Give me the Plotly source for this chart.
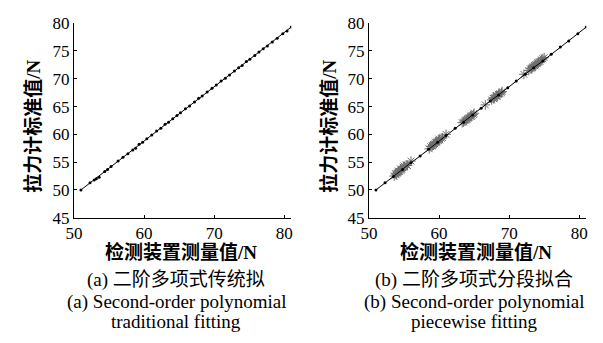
import plotly.graph_objects as go

# ---- data: (a) traditional fitting ----
a_x = [51.0, 52.3, 52.9, 53.2, 53.6, 54.4, 54.8, 55.3, 56.3, 57.0, 57.7, 58.4, 58.8, 59.3, 59.8,
       60.4, 61.1, 61.8, 62.4, 63.0, 63.5, 64.1, 64.7, 65.2, 65.9, 66.5, 67.2, 67.8, 68.3, 69.0,
       69.7, 70.3, 71.0, 71.6, 72.2, 72.9, 73.5, 74.0, 74.6, 75.1, 75.8, 76.4, 77.0, 77.6, 78.3,
       79.0, 79.8, 80.4, 81.0]
a_y = [50.0, 51.3, 51.8, 52.0, 52.3, 53.3, 53.7, 54.2, 55.2, 55.9, 56.5, 57.2, 57.5, 58.2, 58.6,
       59.2, 59.9, 60.6, 61.1, 61.8, 62.2, 62.8, 63.4, 63.9, 64.6, 65.1, 65.8, 66.5, 66.9, 67.6,
       68.3, 68.9, 69.6, 70.1, 70.7, 71.4, 72.0, 72.4, 73.1, 73.5, 74.2, 74.8, 75.4, 75.9, 76.6,
       77.3, 78.1, 78.6, 79.3]
fit_x = [51, 56, 61, 66, 71, 76, 81]
fit_y = [50.0, 54.9, 59.8, 64.7, 69.6, 74.4, 79.3]

# ---- data: (b) piecewise fitting ----
b_line_x = [51, 52.3, 53.5, 54.8, 56, 57.3, 58.5, 59.8, 61, 62.3, 63.5, 64.8, 66, 67.3, 68.5,
            69.8, 71, 72.3, 73.5, 74.8, 76, 77.3, 78.5, 79.8, 81]
b_line_y = [50.0, 51.3, 52.4, 53.7, 54.9, 56.1, 57.3, 58.6, 59.8, 61.1, 62.2, 63.5, 64.7, 66.0,
            67.1, 68.4, 69.6, 70.8, 72.0, 73.2, 74.4, 75.7, 76.8, 78.1, 79.3]
b_x = [53.6, 53.8, 54.0, 54.2, 54.4, 54.5, 54.7, 54.9, 55.1, 55.3, 55.5, 54.1, 53.9, 54.6, 55.0, 56.0,
       58.6, 58.8, 59.0, 59.2, 59.4, 59.5, 59.7, 59.9, 60.1, 60.3, 60.5, 59.1, 59.6, 60.0, 61.0,
       63.3, 63.5, 63.7, 63.9, 64.1, 64.3, 64.5, 64.7, 64.9, 65.0, 64.0, 64.6, 66.6,
       67.5, 67.7, 67.9, 68.1, 68.3, 68.5, 68.7, 68.9, 69.0, 67.8, 68.2, 72.1,
       72.8, 73.0, 73.2, 73.4, 73.6, 73.8, 74.0, 74.2, 74.4, 74.6, 74.8, 75.0, 73.3, 74.1, 73.7]
b_y = [52.5, 52.9, 53.0, 53.4, 53.3, 53.8, 53.7, 54.1, 54.2, 54.5, 54.4, 53.2, 52.7, 53.5, 54.3, 55.2,
       57.4, 57.8, 57.9, 58.2, 58.3, 58.6, 58.7, 58.9, 59.0, 59.3, 59.4, 58.0, 58.5, 59.1, 60.0,
       62.1, 62.2, 62.5, 62.6, 62.9, 63.0, 63.3, 63.4, 63.6, 63.8, 62.7, 63.2, 65.3,
       66.2, 66.5, 66.6, 66.9, 66.8, 67.2, 67.3, 67.5, 67.7, 66.4, 67.0, 70.8,
       71.5, 71.8, 71.9, 72.2, 72.4, 72.5, 72.7, 73.0, 73.1, 73.4, 73.6, 73.8, 72.0, 72.9, 72.3]

x_ticks = [50, 60, 70, 80]
y_ticks = [45, 50, 55, 60, 65, 70, 75, 80]
x_title = "检测装置测量值/N"
y_title = "拉力计标准值/N"
cap_a = ["(a) 二阶多项式传统拟", "(a) Second-order polynomial", "traditional fitting"]
cap_b = ["(b) 二阶多项式分段拟合", "(b) Second-order polynomial", "piecewise fitting"]

W, H = 603, 343
SERIF = "Liberation Serif, Times New Roman, serif"
CJK = "Liberation Serif, Noto Sans CJK SC, serif"

fig = go.Figure()
fig.add_trace(go.Scatter(x=fit_x, y=fit_y, mode="lines", line=dict(color="black", width=1),
                         xaxis="x", yaxis="y", showlegend=False))
fig.add_trace(go.Scatter(x=a_x, y=a_y, mode="markers", marker=dict(color="black", size=3),
                         xaxis="x", yaxis="y", showlegend=False))
fig.add_trace(go.Scatter(x=b_x, y=b_y, mode="markers",
                         marker=dict(symbol="asterisk-open", color="#6e6e6e", size=8,
                                     line=dict(color="#6e6e6e", width=1)),
                         xaxis="x2", yaxis="y2", showlegend=False))
fig.add_trace(go.Scatter(x=b_line_x, y=b_line_y, mode="lines+markers",
                         line=dict(color="black", width=1), marker=dict(color="black", size=3),
                         xaxis="x2", yaxis="y2", showlegend=False))

def xax(dom, anchor):
    return dict(domain=dom, anchor=anchor, range=[50, 81], tickvals=x_ticks, ticks="inside",
                ticklen=3, tickcolor="black", showline=True, linecolor="black", linewidth=1,
                showgrid=False, zeroline=False, mirror=False,
                tickfont=dict(family=SERIF, size=17, color="black"))

def yax(anchor):
    return dict(domain=[(H - 221) / H, (H - 15) / H], anchor=anchor, range=[45, 80], tickvals=y_ticks,
                ticks="inside", ticklen=3, tickcolor="black", showline=True, linecolor="black",
                linewidth=1, showgrid=False, zeroline=False, mirror=False,
                tickfont=dict(family=SERIF, size=17, color="black"))

fig.update_layout(
    width=W, height=H, margin=dict(l=0, r=0, t=0, b=0),
    paper_bgcolor="white", plot_bgcolor="white",
    xaxis=xax([66 / W, 287 / W], "y"), yaxis=yax("x"),
    xaxis2=xax([366 / W, 587 / W], "y2"), yaxis2=yax("x2"),
)

ann = []
def add(text, x, y, size, angle=0, bold=False, family=CJK):
    t = f"<b>{text}</b>" if bold else text
    ann.append(dict(text=t, x=x / W, y=1 - y / H, xref="paper", yref="paper", showarrow=False,
                    textangle=angle, xanchor="center", yanchor="middle",
                    font=dict(family=family, size=size, color="black")))

add(y_title, 25, 124, 19, angle=-90, bold=True)
add(y_title, 326, 124, 19, angle=-90, bold=True)
add(x_title, 175, 257, 19, bold=True)
add(x_title, 475, 257, 19, bold=True)
for cap, cx in ((cap_a, 170), (cap_b, 473)):
    add(cap[0], cx, 287, 19)
    add(cap[1], cx, 310, 19, family=SERIF)
    add(cap[2], cx, 331, 19, family=SERIF)
fig.update_layout(annotations=ann)

fig.write_html("out.html")
